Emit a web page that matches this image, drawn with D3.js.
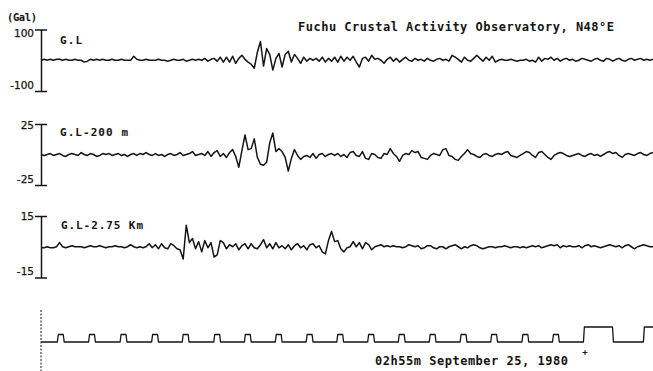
<!DOCTYPE html>
<html>
<head>
<meta charset="utf-8">
<script src="https://cdn.jsdelivr.net/npm/d3@7"></script>
<style>
  html, body { margin: 0; padding: 0; background: #fff; }
  svg { display: block; }
</style>
</head>
<body>
<div id="chart"></div>
<script>
// Strong-motion accelerograms, Fuchu Crustal Activity Observatory (N48°E component)
// Samples every 0.1 s; accelerations in Gal.
const sampleStep = 0.1;

// Ground level (surface)
const glSurface = [
  0,3,0,3,0,3,3,0,3,0,
  0,3,0,0,-6,-3,3,0,3,0,
  3,0,0,3,0,0,3,0,0,0,
  13,3,0,0,3,0,0,0,3,0,
  0,-3,0,3,0,0,3,-3,0,3,
  0,3,0,6,-3,3,6,-3,10,-6,
  10,-6,13,-10,6,16,3,-6,-13,-26,
  26,61,-19,38,19,-32,6,22,-22,19,
  29,-6,19,6,-10,10,-3,6,0,6,
  -3,10,-6,6,-3,10,-6,13,-3,10,
  0,13,-6,-22,6,10,-3,16,3,6,
  0,-10,3,10,-3,6,-6,3,10,0,
  -3,6,0,3,-3,6,0,-3,3,6,
  0,3,-3,16,10,3,-6,10,0,-3,
  6,16,6,-3,10,0,13,-6,0,3,
  0,0,3,0,-3,0,0,3,-3,0,
  -6,10,-3,6,3,10,0,6,-3,3,
  6,0,3,-3,0,6,3,0,-3,3,
  6,0,-3,6,3,-3,3,6,0,-3,
  3,6,0,3,6,0,3,0,3
];

// Borehole, 200 m below ground level
const gl200 = [
  0,-0.8,0,0.8,-0.8,0,0.8,-0.8,-1.6,0,
  0.8,0,-0.8,1.6,0,-0.8,0.8,0,-1.6,-0.8,
  0.8,0,0.8,-0.8,0,0.8,-0.8,0,-1.6,0,
  0.8,-0.8,0.8,0,1.6,0,-0.8,0.8,-0.8,0,
  -1.6,0,0.8,-0.8,0,1.6,-0.8,0,0.8,2.4,
  -0.8,0,0.8,-0.8,2.4,-1.6,1.6,3.2,-1.6,0.8,
  -2.4,1.6,4,-1.6,-10.4,3.2,16,4,4.8,12.8,
  -2.4,-8,-8.8,-6.4,9.6,17.6,2.4,4.8,2.4,-2.4,
  -13.6,-3.2,4,-0.8,-4,-1.6,-0.8,-2.4,0.8,-3.2,
  0,0.8,-1.6,0,0.8,-0.8,0.8,-1.6,0,-2.4,
  1.6,2.4,-0.8,-1.6,2.4,-3.2,-4,0.8,0,-2.4,
  -3.2,0.8,0,4.8,0.8,-1.6,-5.6,-0.8,0.8,0,
  3.2,1.6,2.4,-2.4,-3.2,-4,-0.8,0.8,0,-0.8,
  4,4.8,-0.8,-1.6,-4,-4.8,-1.6,0.8,4,0.8,
  0,-1.6,-2.4,0,0.8,-0.8,-1.6,0,0.8,0,
  1.6,2.4,-0.8,-1.6,-2.4,-0.8,0.8,2.4,1.6,-0.8,
  -2.4,1.6,2.4,0,-2.4,-4,-0.8,0.8,1.6,0.8,
  -0.8,-1.6,-0.8,0,0.8,-0.8,-1.6,0,0.8,-0.8,
  0,-1.6,0,1.6,2.4,0.8,1.6,-0.8,-2.4,0,
  0.8,0,-0.8,0.8,1.6,0,-0.8,0.8,1.6
];

// Deep borehole, 2.75 km below ground level
const gl2750 = [
  -0.5,-0.5,0,-0.5,-0.5,0,2,0,-0.5,0,
  0.5,0,0,0,-0.5,0,0.5,0,0,0.5,
  0,-0.5,0,0,0.5,0,0,-0.5,0,1,
  0,-0.5,0,-0.5,0,1.5,-0.5,1,-1,1.5,
  -0.5,-1,1.5,0.5,-1,-1.5,-6,10.5,2,4,
  -1,2.5,-2.5,3,-0.5,2,-5,-4,3,2,
  -1,1,0,1.5,-1.5,0.5,1.5,-1,1.5,-0.5,
  -1,1,3.5,-0.5,1.5,-1,2,-0.5,0.5,-1,
  1,-1.5,0.5,1.5,-0.5,0.5,-1.5,1,1.5,-0.5,
  0.5,-2.5,-3.5,3,7.5,2.5,3,-1,-2.5,-0.5,
  0,2.5,0,2,-1,2,1,-1.5,0,0.5,
  1,0,0.5,0,0.5,0,0,-0.5,0,1,
  0.5,0,0.5,-1,-0.5,0.5,0.5,-0.5,-1,0,
  0,-1,0,0.5,1,0,-1,0,-0.5,0.5,
  1,0.5,-0.5,-1,-0.5,0,0,-0.5,0,0,
  0.5,0,-0.5,0,0,-0.5,0,-0.5,0,0.5,
  0,0.5,-0.5,0,0.5,1,0.5,1,-0.5,0.5,
  0,0.5,0,0,0.5,-0.5,0.5,1,0,0.5,
  0,-0.5,0,0.5,1,0.5,0,0.5,-0.5,0.5,
  1,0,-1,0,0.5,1,0.5,0,0
];

const traceNames = ["G.L", "G.L-200 m", "G.L-2.75 Km"];
const tickSurface = [100, -100];
const tick200 = [25, -25];
const tick2750 = [15, -15];

// Time marks: pulse start (s), pulse length (s), pulse height (1 = second, 2 = long mark)
const markStart = [0.53,1.54,2.56,3.58,4.57,5.59,6.58,7.58,8.58,9.57,10.57,11.56,12.56,13.56,14.55,15.56,16.55,17.55,19.49];
const markWidth = [0.22,0.22,0.22,0.22,0.22,0.22,0.22,0.22,0.22,0.22,0.22,0.22,0.22,0.22,0.22,0.22,0.22,0.97,0.97];
const markLevel = [1,1,1,1,1,1,1,1,1,1,1,1,1,1,1,1,1,2,2];

const titleText = "Fuchu Crustal Activity Observatory, N48°E";
const unitText = "(Gal)";
const timeText = "02h55m September 25, 1980";

// ---------------------------------------------------------------
const W = 653, H = 371;
const INK = "#141414";
const MONO = "'DejaVu Sans Mono', 'Liberation Mono', monospace";
const SANS = "'DejaVu Sans', 'Liberation Sans', sans-serif";
const tEnd = 19.8;

const svg = d3.select("#chart").append("svg")
  .attr("width", W).attr("height", H)
  .attr("viewBox", `0 0 ${W} ${H}`);

const x = d3.scaleLinear().domain([0, tEnd]).range([41, 653]);

const panels = [
  { name: traceNames[0], values: glSurface, ticks: tickSurface, yTop: 29.5, yBot: 91,    nameX: 60, nameY: 44,  nameLen: 22, topDy: "0.62em" },
  { name: traceNames[1], values: gl200,     ticks: tick200,     yTop: 124,  yBot: 185,   nameX: 60, nameY: 135.5, nameLen: 68, topDy: "0.45em" },
  { name: traceNames[2], values: gl2750,    ticks: tick2750,    yTop: 216,  yBot: 277.5, nameX: 61, nameY: 228.5, nameLen: 82, topDy: "0.37em" }
];

panels.forEach(p => {
  const y = d3.scaleLinear().domain(d3.extent(p.ticks)).range([p.yBot, p.yTop]);

  const axis = d3.axisLeft(y)
    .tickValues(p.ticks)
    .tickFormat(d => String(d))
    .tickSizeInner(6)
    .tickSizeOuter(0)
    .tickPadding(1);

  const g = svg.append("g")
    .attr("transform", `translate(${x(0)},0)`)
    .call(axis);

  g.select(".domain").attr("stroke", INK).attr("stroke-width", 1.5);
  g.selectAll(".tick line")
    .attr("x1", -6).attr("x2", 6)
    .attr("stroke", INK).attr("stroke-width", 1.5);
  g.selectAll(".tick text")
    .attr("x", -7)
    .attr("dy", d => d > 0 ? p.topDy : "-0.28em")
    .attr("font-family", SANS)
    .attr("font-size", 10.5)
    .attr("stroke", INK).attr("stroke-width", 0.25)
    .attr("fill", INK);

  const line = d3.line()
    .x((d, i) => x(i * sampleStep))
    .y(d => y(d));

  svg.append("path")
    .datum(p.values)
    .attr("d", line)
    .attr("fill", "none")
    .attr("stroke", INK)
    .attr("stroke-width", 1.5)
    .attr("stroke-linejoin", "round");

  svg.append("text")
    .attr("x", p.nameX).attr("y", p.nameY)
    .attr("font-family", MONO)
    .attr("font-weight", "bold")
    .attr("font-size", 11)
    .attr("textLength", p.nameLen)
    .attr("lengthAdjust", "spacing")
    .attr("fill", INK)
    .text(p.name);
});

// ---- Time-mark channel ----
const yMark = d3.scaleLinear().domain([0, 2]).range([342, 327]);
const edge = 0.03;
const markPts = [[0, 0]];
markStart.forEach((s, i) => {
  const e = s + markWidth[i];
  const lv = markLevel[i];
  markPts.push([s, 0], [s + edge, lv]);
  if (e < tEnd) {
    markPts.push([e - edge, lv], [e, 0]);
  } else {
    markPts.push([tEnd, lv]);
  }
});
if (markPts[markPts.length - 1][0] < tEnd) markPts.push([tEnd, 0]);

svg.append("path")
  .datum(markPts)
  .attr("d", d3.line().x(d => x(d[0])).y(d => yMark(d[1])))
  .attr("fill", "none")
  .attr("stroke", INK)
  .attr("stroke-width", 1.3)
  .attr("stroke-linejoin", "round");

svg.append("line")
  .attr("x1", x(0)).attr("x2", x(0))
  .attr("y1", 310).attr("y2", H)
  .attr("stroke", INK)
  .attr("stroke-width", 1)
  .attr("stroke-dasharray", "2,1.5");

// ---- Text ----
svg.append("text")
  .attr("x", 298).attr("y", 31)
  .attr("font-family", MONO).attr("font-weight", "bold")
  .attr("font-size", 12)
  .attr("textLength", 316).attr("lengthAdjust", "spacing")
  .attr("fill", INK)
  .text(titleText);

svg.append("text")
  .attr("x", 7).attr("y", 20.5)
  .attr("font-family", MONO).attr("font-weight", "bold")
  .attr("font-size", 10.5)
  .attr("textLength", 30).attr("lengthAdjust", "spacing")
  .attr("fill", INK)
  .text(unitText);

svg.append("text")
  .attr("x", 375).attr("y", 364.5)
  .attr("font-family", MONO).attr("font-weight", "bold")
  .attr("font-size", 12)
  .attr("textLength", 193).attr("lengthAdjust", "spacing")
  .attr("fill", INK)
  .text(timeText);

svg.append("text")
  .attr("x", x(17.55) + 1.5).attr("y", 355)
  .attr("text-anchor", "middle")
  .attr("font-family", MONO).attr("font-weight", "bold")
  .attr("font-size", 9)
  .attr("fill", INK)
  .text("+");
</script>
</body>
</html>
